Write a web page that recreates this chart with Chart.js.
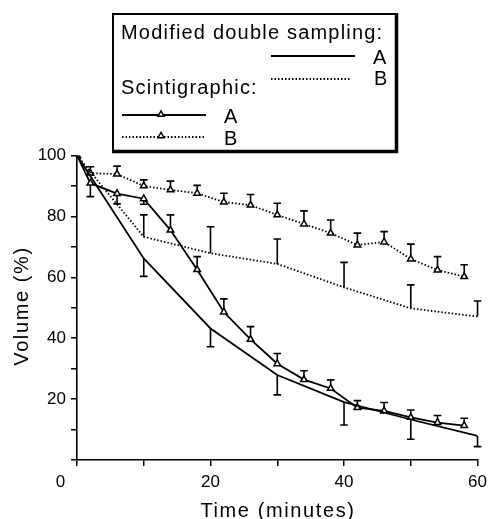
<!DOCTYPE html>
<html>
<head>
<meta charset="utf-8">
<script src="https://cdn.jsdelivr.net/npm/chart.js@4"></script>
<style>
  html, body { margin: 0; padding: 0; background: #fff; }
  #wrap { width: 493px; height: 519px; position: relative; }
</style>
</head>
<body>
<div id="wrap"><canvas id="volChart"></canvas></div>
<script>
// Waktu pengukuran (menit)
const scintTimes = [0, 2, 6, 10, 14, 18, 22, 26, 30, 34, 38, 42, 46, 50, 54, 58];
const mdsTimes = [0, 10, 20, 30, 40, 50, 60];

// Scintigraphic A / B (volume %)
const scintA = [100, 90.9, 87.5, 85.8, 75.5, 62.5, 48.6, 39.6, 31.6, 26.4, 23.5, 17.2, 16.1, 14.0, 12.3, 11.3];
const scintAErr = [null, 86.5, 84.1, 84.0, 80.5, 66.8, 52.9, 43.8, 35.0, 29.3, 26.3, 19.5, 18.9, 16.4, 14.6, 13.7];
const scintB = [100, 94.2, 93.9, 90.0, 88.7, 87.6, 84.7, 83.7, 80.5, 77.5, 74.5, 70.6, 71.6, 66.0, 62.4, 60.2];
const scintBErr = [null, 96.3, 96.5, 92.0, 91.6, 90.2, 87.6, 87.2, 84.3, 81.8, 78.8, 74.5, 75.0, 70.9, 66.8, 64.1];

// Modified double sampling A / B
const mdsA = [100, 66.2, 43.2, 27.9, 19.0, 13.3, 7.9];
const mdsAErr = [null, 60.3, 37.2, 21.4, 11.5, 6.8, 4.4];
const mdsB = [100, 73.3, 67.9, 64.4, 56.7, 49.8, 47.1];
const mdsBErr = [null, 80.5, 76.6, 72.6, 64.9, 57.5, 52.2];

// Tick labels
const xTickLabels = { 0: '0       ', 20: '20', 40: '40', 60: '60' };
const yTickLabels = { 20: '20', 40: '40', 60: '60', 80: '80', 100: '100' };

const FONT = '"Liberation Sans", Arial, sans-serif';
const DOT = [1.5, 2];

function toPoints(xs, ys) {
  return xs.map((t, i) => ({ x: t, y: ys[i] }));
}

// error bar (satu sisi) digambar lewat skala chart
const errorBars = {
  id: 'errorBars',
  beforeDatasetsDraw(chart) {
    const { ctx, scales: { x, y } } = chart;
    ctx.save();
    ctx.strokeStyle = '#000';
    ctx.lineWidth = 1.6;
    ctx.setLineDash([]);
    chart.data.datasets.forEach(ds => {
      if (!ds.errEnds) return;
      ds.data.forEach((pt, i) => {
        const e = ds.errEnds[i];
        if (e === null || e === undefined) return;
        const px = x.getPixelForValue(pt.x);
        const py = y.getPixelForValue(pt.y);
        const pe = y.getPixelForValue(e);
        ctx.beginPath();
        ctx.moveTo(px, py);
        ctx.lineTo(px, pe);
        ctx.moveTo(px - 3.8, pe);
        ctx.lineTo(px + 3.8, pe);
        ctx.stroke();
      });
    });
    ctx.restore();
  }
};

function drawTriangle(ctx, cx, cy, r) {
  ctx.save();
  ctx.beginPath();
  ctx.moveTo(cx, cy - r);
  ctx.lineTo(cx + r * 0.866, cy + r * 0.5);
  ctx.lineTo(cx - r * 0.866, cy + r * 0.5);
  ctx.closePath();
  ctx.fillStyle = '#fff';
  ctx.fill();
  ctx.stroke();
  ctx.restore();
}

// kotak legenda + judul sumbu
const legendBox = {
  id: 'legendBox',
  afterDraw(chart) {
    const ctx = chart.ctx;
    ctx.save();
    ctx.strokeStyle = '#000';
    ctx.fillStyle = '#000';

    // bingkai
    ctx.lineWidth = 2;
    ctx.strokeRect(113, 14, 283, 137);
    ctx.lineWidth = 3.5;
    ctx.beginPath();
    ctx.moveTo(396.5, 13); ctx.lineTo(396.5, 152.5);
    ctx.moveTo(112, 151.5); ctx.lineTo(398, 151.5);
    ctx.stroke();

    ctx.font = '20px ' + FONT;
    ctx.letterSpacing = '1.2px';
    ctx.textBaseline = 'alphabetic';
    ctx.textAlign = 'left';
    ctx.fillText('Modified double sampling:', 121, 39);
    ctx.fillText('A', 373, 64);
    ctx.fillText('B', 374, 85);
    ctx.fillText('Scintigraphic:', 121, 94);
    ctx.fillText('A', 224, 122.5);
    ctx.fillText('B', 224, 145);
    ctx.letterSpacing = '0px';

    ctx.lineWidth = 1.8;
    ctx.beginPath(); ctx.moveTo(271, 56); ctx.lineTo(355, 56); ctx.stroke();
    ctx.setLineDash(DOT);
    ctx.beginPath(); ctx.moveTo(271, 79); ctx.lineTo(350, 79); ctx.stroke();
    ctx.setLineDash([]);
    ctx.beginPath(); ctx.moveTo(122, 115); ctx.lineTo(206, 115); ctx.stroke();
    ctx.setLineDash(DOT);
    ctx.beginPath(); ctx.moveTo(122, 137); ctx.lineTo(206, 137); ctx.stroke();
    ctx.setLineDash([]);
    ctx.lineWidth = 1.4;
    drawTriangle(ctx, 161, 114.5, 3.6);
    drawTriangle(ctx, 161, 136, 3.6);

    // judul sumbu
    ctx.fillStyle = '#000';
    ctx.font = '20px ' + FONT;
    ctx.letterSpacing = '1.6px';
    ctx.textAlign = 'center';
    ctx.textBaseline = 'alphabetic';
    ctx.fillText('Time (minutes)', 278, 517);
    ctx.translate(28, 306);
    ctx.rotate(-Math.PI / 2);
    ctx.fillText('Volume (%)', 0, 0);
    ctx.letterSpacing = '0px';
    ctx.restore();
  }
};

const lineBase = {
  showLine: true,
  borderColor: '#000',
  borderWidth: 1.8,
  tension: 0,
  pointRadius: 0,
  pointHoverRadius: 0
};

const triBase = {
  pointStyle: 'triangle',
  pointRadius: 3.8,
  pointBorderWidth: 1.5,
  pointBackgroundColor: '#fff',
  pointBorderColor: '#000'
};

const data = {
  datasets: [
    Object.assign({}, lineBase, {
      label: 'Modified double sampling A',
      data: toPoints(mdsTimes, mdsA),
      errEnds: mdsAErr
    }),
    Object.assign({}, lineBase, {
      label: 'Modified double sampling B',
      data: toPoints(mdsTimes, mdsB),
      borderDash: DOT,
      errEnds: mdsBErr
    }),
    Object.assign({}, lineBase, triBase, {
      label: 'Scintigraphic A',
      data: toPoints(scintTimes, scintA),
      errEnds: scintAErr
    }),
    Object.assign({}, lineBase, triBase, {
      label: 'Scintigraphic B',
      data: toPoints(scintTimes, scintB),
      borderDash: DOT,
      errEnds: scintBErr
    })
  ]
};

const tickFont = { family: FONT, size: 17 };

new Chart(document.getElementById('volChart'), {
  type: 'scatter',
  data: data,
  plugins: [errorBars, legendBox],
  options: {
    responsive: true,
    maintainAspectRatio: false,
    animation: false,
    layout: { padding: { left: 0, right: 10, top: 155.5, bottom: 0 } },
    plugins: {
      legend: { display: false },
      tooltip: { enabled: false }
    },
    scales: {
      x: {
        type: 'linear',
        min: 0,
        max: 60,
        afterFit: (scale) => { scale.height = 59; },
        ticks: {
          stepSize: 10,
          color: '#000',
          font: tickFont,
          padding: 6,
          maxRotation: 0,
          autoSkip: false,
          callback: (v) => xTickLabels[v] !== undefined ? xTickLabels[v] : ''
        },
        grid: { display: true, drawOnChartArea: false, drawTicks: true, tickLength: 6, color: '#000', lineWidth: 1.5 },
        border: { display: true, color: '#000', width: 1.6 }
      },
      y: {
        type: 'linear',
        min: 0,
        max: 100,
        afterFit: (scale) => { scale.width = 77; },
        ticks: {
          stepSize: 10,
          color: '#000',
          font: tickFont,
          padding: 5,
          autoSkip: false,
          callback: (v) => yTickLabels[v] !== undefined ? yTickLabels[v] : ''
        },
        grid: { display: true, drawOnChartArea: false, drawTicks: true, tickLength: 6, color: '#000', lineWidth: 1.5 },
        border: { display: true, color: '#000', width: 1.6 }
      }
    }
  }
});
</script>
</body>
</html>
